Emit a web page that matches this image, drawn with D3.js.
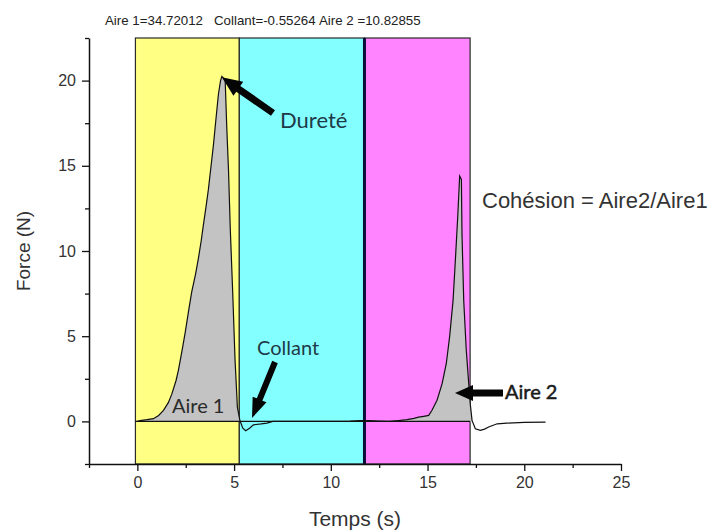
<!DOCTYPE html>
<html><head><meta charset="utf-8">
<script src="https://cdn.jsdelivr.net/npm/d3@7"></script>
<style>
body{margin:0;background:#fff;}
svg{display:block;}
</style></head>
<body>
<svg id="chart" width="711" height="531"></svg>
<script>
// ---- data ----
const time = [0.0,0.14,0.5,0.83,1.1,1.35,1.6,1.78,2.0,2.12,2.3,2.47,2.65,2.81,3.0,3.16,3.3,3.41,3.55,3.67,3.8,3.93,4.05,4.19,4.3,4.37,4.45,4.54,4.62,4.71,4.8,4.93,5.05,5.17,5.3,5.45,5.6,5.8,6.0,6.4,6.7,7.0,8.0,9.0,10.0,11.0,11.5,12.0,12.5,13.0,13.5,13.94,14.3,14.54,14.8,15.06,15.23,15.49,15.75,15.97,16.14,16.32,16.44,16.56,16.66,16.75,16.78,16.87,17.0,17.13,17.21,17.3,17.47,17.73,17.95,18.16,18.6,19.1,20.0,21.1];
const force = [0.0,0.05,0.1,0.16,0.35,0.65,1.1,1.6,2.4,3.0,4.1,5.2,6.5,7.6,8.6,9.6,10.6,11.5,12.6,13.6,14.9,16.2,17.6,19.2,20.0,20.25,20.15,20.0,17.3,14.8,11.4,7.5,3.6,0.84,0.05,-0.4,-0.55,-0.4,-0.2,-0.15,-0.1,0.0,0.0,0.0,0.0,0.02,0.05,0.05,0.02,0.0,0.05,0.1,0.18,0.25,0.3,0.35,0.65,1.24,2.2,3.4,4.96,7.1,9.5,12.0,14.4,14.2,11.0,7.1,4.2,2.2,1.0,0.06,-0.43,-0.53,-0.45,-0.33,-0.14,-0.1,-0.06,-0.04];

const regionStart = [-0.1, 5.27, 11.74];
const regionEnd   = [5.27, 11.74, 17.2];
const regionColor = ["#ffff84", "#84ffff", "#ff84ff"];
const regionLabels = ["Aire 1=34.72012", "Collant=-0.55264", "Aire 2 =10.82855"];

const area1Range = [0.0, 5.3];
const area2Range = [13.5, 17.3];

const xMajorTicks = [0, 5, 10, 15, 20, 25];
const xMinorTicks = [-2.5, 2.5, 7.5, 12.5, 17.5, 22.5];
const yMajorTicks = [0, 5, 10, 15, 20];
const yMinorTicks = [-2.5, 2.5, 7.5, 12.5, 17.5, 22.5];

// ---- layout ----
const svg = d3.select("#chart");
const W = 711, H = 531;
const x = d3.scaleLinear().domain([-2.5, 25]).range([89, 621]);
const y = d3.scaleLinear().domain([-2.5, 22.5]).range([464, 38]);
const pts = time.map((t, i) => ({t, f: force[i]}));

svg.append("rect").attr("width", W).attr("height", H).attr("fill", "#fff");

// regions
const g = svg.append("g");
regionStart.forEach((s, i) => {
  g.append("rect")
    .attr("x", x(s)).attr("y", y(22.5))
    .attr("width", x(regionEnd[i]) - x(s))
    .attr("height", y(-2.5) - y(22.5))
    .attr("fill", regionColor[i])
    .attr("stroke", "#2a2a2a").attr("stroke-width", 1.2);
});
g.append("line")
  .attr("x1", x(regionStart[2])).attr("x2", x(regionStart[2]))
  .attr("y1", y(22.5)).attr("y2", y(-2.5))
  .attr("stroke", "#0c0c3a").attr("stroke-width", 3);

// filled areas
const area = d3.area().x(d => x(d.t)).y0(y(0)).y1(d => y(d.f));
[area1Range, area2Range].forEach(r => {
  g.append("path")
    .datum(pts.filter(d => d.t >= r[0] && d.t <= r[1]))
    .attr("d", area)
    .attr("fill", "#c3c3c3");
});

// baseline at zero
g.append("line")
  .attr("x1", x(regionStart[0])).attr("x2", x(regionEnd[2]))
  .attr("y1", y(0)).attr("y2", y(0))
  .attr("stroke", "#111").attr("stroke-width", 1.3);

// curve
const line = d3.line().x(d => x(d.t)).y(d => y(d.f));
g.append("path").datum(pts).attr("d", line)
  .attr("fill", "none").attr("stroke", "#111").attr("stroke-width", 1.2);

// axes
const sans = "'Liberation Sans', Arial, sans-serif";
function styleAxis(sel) {
  sel.select(".domain").attr("stroke", "#111").attr("stroke-width", 1.5);
  sel.selectAll(".tick line").attr("stroke", "#111").attr("stroke-width", 1.3);
  sel.selectAll(".tick text").attr("fill", "#333")
    .style("font-family", sans).style("font-size", "16px");
}
const xAxis = svg.append("g").attr("transform", `translate(0,${y(-2.5)})`)
  .call(d3.axisBottom(x).tickValues(xMajorTicks).tickFormat(d3.format("d")).tickSize(7).tickSizeOuter(0).tickPadding(6));
styleAxis(xAxis);
svg.append("g").attr("transform", `translate(0,${y(-2.5)})`)
  .call(d3.axisBottom(x).tickValues(xMinorTicks).tickFormat("").tickSize(4).tickSizeOuter(0))
  .call(s => { s.select(".domain").remove(); s.selectAll("line").attr("stroke", "#111").attr("stroke-width", 1.3); });

const yAxis = svg.append("g").attr("transform", `translate(${x(-2.5)},0)`)
  .call(d3.axisLeft(y).tickValues(yMajorTicks).tickFormat(d3.format("d")).tickSize(7).tickSizeOuter(0).tickPadding(6));
styleAxis(yAxis);
svg.append("g").attr("transform", `translate(${x(-2.5)},0)`)
  .call(d3.axisLeft(y).tickValues(yMinorTicks).tickFormat("").tickSize(4).tickSizeOuter(0))
  .call(s => { s.select(".domain").remove(); s.selectAll("line").attr("stroke", "#111").attr("stroke-width", 1.3); });

// axis titles
svg.append("text").attr("x", (x(-2.5) + x(25)) / 2).attr("y", 526)
  .attr("text-anchor", "middle").attr("fill", "#333")
  .style("font-family", sans).style("font-size", "21px").text("Temps (s)");
svg.append("text").attr("transform", `translate(30,${(y(-2.5) + y(22.5)) / 2}) rotate(-90)`)
  .attr("text-anchor", "middle").attr("fill", "#333")
  .style("font-family", sans).style("font-size", "19px").text("Force (N)");

// top labels
const topLabelX = [105, 214, 319];
regionLabels.forEach((t, i) => {
  svg.append("text").attr("x", topLabelX[i]).attr("y", 25)
    .attr("fill", "#222").style("font-family", sans).style("font-size", "13.3px").text(t);
});

// cohesion text
svg.append("text").attr("x", 482).attr("y", 208).attr("fill", "#333")
  .style("font-family", sans).style("font-size", "22px").text("Cohésion = Aire2/Aire1");

// annotations
const anno = "Lato, 'Open Sans', sans-serif";
function arrow(x1, y1, x2, y2, sw, hl, hw) {
  const dx = x2 - x1, dy = y2 - y1, L = Math.hypot(dx, dy);
  const ux = dx / L, uy = dy / L, nx = -uy, ny = ux;
  const bx = x2 - ux * hl, by = y2 - uy * hl;
  const p = [
    [x1 + nx * sw / 2, y1 + ny * sw / 2],
    [bx + nx * sw / 2, by + ny * sw / 2],
    [bx + nx * hw / 2, by + ny * hw / 2],
    [x2, y2],
    [bx - nx * hw / 2, by - ny * hw / 2],
    [bx - nx * sw / 2, by - ny * sw / 2],
    [x1 - nx * sw / 2, y1 - ny * sw / 2]
  ];
  svg.append("path").attr("d", "M" + p.map(q => q.join(",")).join("L") + "Z").attr("fill", "#050505");
}
arrow(273, 113, x(4.37), y(20.25) + 1, 7, 20, 17);
arrow(275, 362, 252, 418, 6, 20, 15);
arrow(503, 393, 455, 393, 7, 18, 16);

svg.append("text").attr("x", 280).attr("y", 128).attr("fill", "#1e3a48")
  .style("font-family", anno).style("font-size", "22px").text("Dureté");
svg.append("text").attr("x", 257).attr("y", 355).attr("fill", "#1e3a48")
  .style("font-family", anno).style("font-size", "20px").text("Collant");
svg.append("text").attr("x", 172).attr("y", 413).attr("fill", "#2a2a2a")
  .style("font-family", anno).style("font-size", "20px").text("Aire 1");
svg.append("text").attr("x", 505).attr("y", 399).attr("fill", "#1a1a1a")
  .attr("stroke", "#1a1a1a").attr("stroke-width", 0.5)
  .style("font-family", anno).style("font-size", "20px").text("Aire 2");
</script>
</body></html>
